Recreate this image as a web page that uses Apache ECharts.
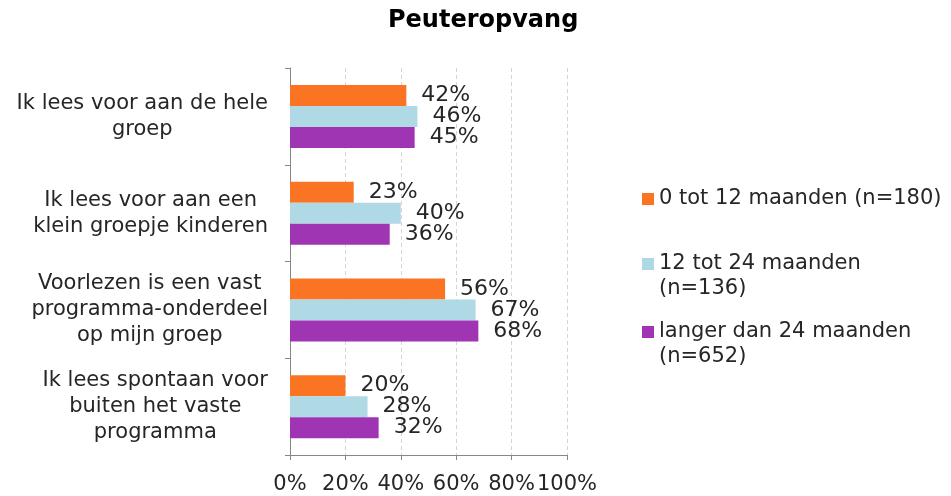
<!DOCTYPE html>
<html>
<head>
<meta charset="utf-8">
<script src="https://cdn.jsdelivr.net/npm/echarts@6/dist/echarts.min.js"></script>
<style>html,body{margin:0;padding:0;background:#fff}#c{width:951px;height:496px}</style>
</head>
<body>
<div id="c"></div>
<script>
const categories = [
  "Ik lees voor aan de hele\ngroep",
  "Ik lees voor aan een\nklein groepje kinderen",
  "Voorlezen is een vast\nprogramma-onderdeel\nop mijn groep",
  "Ik lees spontaan voor\nbuiten het vaste\nprogramma"
];
const seriesNames = [
  "0 tot 12 maanden (n=180)",
  "12 tot 24 maanden\n(n=136)",
  "langer dan 24 maanden\n(n=652)"
];
const values0to12 = [42, 23, 56, 20];
const values12to24 = [46, 40, 67, 28];
const valuesOver24 = [45, 36, 68, 32];
const xTicks = [0, 20, 40, 60, 80, 100];

const colors = ["#FA7423", "#B0D9E6", "#A035B4"];
const FONT = "DejaVu Sans";
const TXT = "#262626";
const seriesValues = [values0to12, values12to24, valuesOver24];

const chart = echarts.init(document.getElementById('c'), null, {renderer: 'canvas'});

const iconSingle = 'path://M0,0h12v12h-12z';
const iconDouble = 'path://M0,0h12v12h-12zM0,36.9h0.1v0.1h-0.1z';

function makeLegend(i, top, twoLine) {
  return {
    show: true,
    orient: 'vertical',
    left: 642,
    top: top,
    padding: 0,
    itemWidth: 12,
    itemHeight: twoLine ? 37 : 12,
    icon: twoLine ? iconDouble : iconSingle,
    itemGap: 0,
    data: [seriesNames[i]],
    selectedMode: false,
    textStyle: {fontFamily: FONT, fontSize: 21, color: TXT, lineHeight: 25}
  };
}

const option = {
  animation: false,
  backgroundColor: '#fff',
  title: {
    text: 'Peuteropvang',
    left: 388,
    top: 9,
    padding: 0,
    textStyle: {fontFamily: FONT, fontWeight: 'bold', fontSize: 24, color: '#000'}
  },
  legend: [
    makeLegend(0, 186.5, false),
    makeLegend(1, 251.5, true),
    makeLegend(2, 319.5, true)
  ],
  grid: {left: 290, right: 384, top: 68, bottom: 41, containLabel: false},
  xAxis: {
    type: 'value',
    min: 0, max: 100, interval: 20,
    axisLine: {show: true, lineStyle: {color: '#868686', width: 1}},
    axisTick: {show: true, length: 5, lineStyle: {color: '#868686'}},
    axisLabel: {
      formatter: v => v + '%',
      fontFamily: FONT, fontSize: 21, color: TXT, margin: 19
    },
    splitLine: {show: true, lineStyle: {color: '#D4D4D4', type: [4, 3], width: 1}}
  },
  yAxis: {
    type: 'category',
    inverse: true,
    data: categories,
    axisLine: {show: true, lineStyle: {color: '#868686', width: 1}},
    axisTick: {show: true, length: 5, lineStyle: {color: '#868686'}},
    axisLabel: {
      align: 'right',
      margin: 22,
      fontFamily: FONT, fontSize: 21, color: TXT, lineHeight: 26,
      formatter: v => v.split('\n').map(l => '{c|' + l + '}').join('\n'),
      rich: {c: {align: 'center', fontFamily: FONT, fontSize: 21, color: TXT, lineHeight: 26}}
    },
    splitLine: {show: false}
  },
  series: seriesValues.map((vals, i) => ({
    name: seriesNames[i],
    type: 'bar',
    data: vals,
    barWidth: 21,
    barGap: '0%',
    itemStyle: {color: colors[i]},
    label: {
      show: true,
      position: 'right',
      distance: 15,
      formatter: p => p.value + '%',
      fontFamily: FONT, fontSize: 22, color: TXT
    }
  }))
};
chart.setOption(option);
</script>
</body>
</html>
